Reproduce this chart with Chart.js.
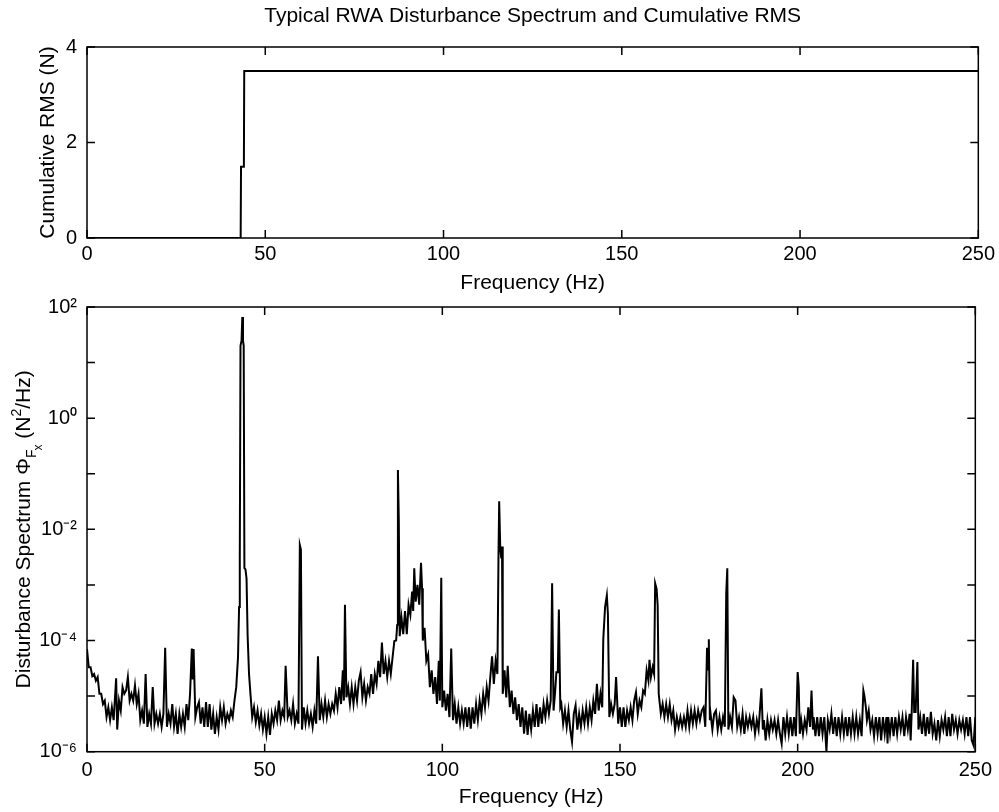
<!DOCTYPE html>
<html>
<head>
<meta charset="utf-8">
<script src="https://cdn.jsdelivr.net/npm/chart.js@4.4.1/dist/chart.umd.min.js"></script>
<style>
  html, body { margin: 0; padding: 0; background: #fff; }
  #wrap { position: relative; width: 999px; height: 812px; }
  #topBox { position: absolute; left: 0; top: 0; width: 999px; height: 300px; }
  #bottomBox { position: absolute; left: 0; top: 285px; width: 999px; height: 527px; }
</style>
</head>
<body>
<div id="wrap">
  <div id="topBox"><canvas id="rmsChart"></canvas></div>
  <div id="bottomBox"><canvas id="psdChart"></canvas></div>
</div>
<script>
// cumulative RMS (N) vs frequency (Hz)
const rmsFreq = [0, 43.1, 43.2, 44.0, 44.1, 250];
const rmsValue = [0, 0, 1.49, 1.49, 3.5, 3.5];

// disturbance PSD (N^2/Hz), [frequency Hz, value]
const psd0to46 = [
  [0,7e-5],[0.5,3.3e-5],[1,3.3e-5],[1.5,2.3e-5],[2,2.5e-5],[2.5,1.9e-5],[3,2.2e-5],[3.5,1.1e-5],
  [4,1.1e-5],[4.5,7.2e-6],[5,8.3e-6],[5.5,4.2e-6],[6,6.3e-6],[6.5,3.7e-6],[7,6.3e-6],[7.5,3.7e-6],
  [8.2,2.1e-5],[8.5,2.5e-6],[9,8.3e-6],[9.5,5.5e-6],[10,1.45e-5],[10.5,1.1e-5],[11,1.26e-5],[11.5,2.2e-5],
  [12,8.3e-6],[12.5,1.1e-5],[13,8.3e-6],[13.5,1.55e-5],[14,7.2e-6],[14.5,1.1e-5],[15,3.7e-6],[15.5,5.5e-6],
  [16,3.2e-6],[16.5,2.5e-5],[17,2.8e-6],[17.5,4.8e-6],[18,3.2e-6],[18.5,1.45e-5],[19,3.2e-6],[19.5,4.8e-6],
  [20,3.2e-6],[20.5,4.8e-6],[21,2.8e-6],[21.5,4.8e-6],[22,7.4e-5],[22.5,2.8e-6],[23,4.8e-6],[23.5,3.2e-6],
  [24,7.2e-6],[24.5,2.8e-6],[25,4.8e-6],[25.5,2.1e-6],[26,4.8e-6],[26.5,2.8e-6],[27,4.8e-6],[27.5,2.8e-6],
  [28,7.2e-6],[28.5,3.7e-6],[29,1.1e-5],[29.5,7.2e-5],[29.75,2e-5],[30,7e-5],[30.5,4.2e-6],[31,6.3e-6],
  [31.5,7.8e-6],[32,3.2e-6],[32.5,6.3e-6],[33,2.8e-6],[33.5,7.8e-6],[34,2.8e-6],[34.5,7.2e-6],[35,2.5e-6],
  [35.5,4.8e-6],[36,2.1e-6],[36.5,4.2e-6],[37,2.5e-6],[37.5,6.3e-6],[38,3.7e-6],[38.5,6.3e-6],[39,3.2e-6],
  [39.5,4.8e-6],[40,3.7e-6],[40.5,5.5e-6],[41,4.2e-6],[41.5,8.3e-6],[42,1.45e-5],[42.5,5e-5],[42.8,4e-4],
  [43,3e-3],[43.2,20],[43.5,25],[43.7,66],[43.9,25],[44.1,20],[44.3,2e-3],[44.6,1.9e-3],
  [44.9,1.3e-3],[45.2,1.26e-4],[45.6,2.5e-5]
];
const psd46to100 = [
  [46,1.1e-5],[46.5,4.2e-6],[47,6.3e-6],[47.5,3.4e-6],[48,5.5e-6],[48.5,3e-6],[49,4.8e-6],[49.5,2.5e-6],
  [50,4.2e-6],[50.5,2.1e-6],[51,4.2e-6],[51.5,2e-6],[52,4.8e-6],[52.5,3.2e-6],[53,5.5e-6],[53.5,3.7e-6],
  [54,8.3e-6],[54.5,3.7e-6],[55,5.5e-6],[55.5,4.2e-6],[55.9,3.5e-5],[56.5,4.2e-6],[57,5.5e-6],[57.5,3.7e-6],
  [58,7.2e-6],[58.5,3.2e-6],[59,4.8e-6],[59.5,3.2e-6],[59.9,5.2e-3],[60.2,4.3e-3],[60.5,2.5e-6],[61,6.3e-6],
  [61.5,3.2e-6],[62,5.5e-6],[62.5,3.2e-6],[63,4.8e-6],[63.5,2.8e-6],[64,5.5e-6],[64.5,3.2e-6],[65,5.2e-5],
  [65.5,3.7e-6],[66,7.2e-6],[66.5,4.2e-6],[67,8.3e-6],[67.5,4.2e-6],[68,7.2e-6],[68.5,4.8e-6],[69,7.2e-6],
  [69.5,5.5e-6],[70,1.1e-5],[70.5,6.3e-6],[71,1.45e-5],[71.5,7.2e-6],[72,2.9e-5],[72.3,8.3e-6],[72.6,4.4e-4],
  [73,9.5e-6],[73.5,1.45e-5],[74,7.2e-6],[74.5,1.45e-5],[75,7.2e-6],[75.5,1.45e-5],[76,8.3e-6],[76.5,1.9e-5],
  [77,2.7e-5],[77.5,9.5e-6],[78,1.66e-5],[78.5,8.3e-6],[79,1.45e-5],[79.5,1.1e-5],[80,2.5e-5],[80.5,1.1e-5],
  [81,2.5e-5],[81.5,1.66e-5],[82,4.3e-5],[82.5,2.2e-5],[83,9.2e-5],[83.5,2.5e-5],[84,4.3e-5],[84.5,2.2e-5],
  [85,4.3e-5],[85.5,2.5e-5],[86,5e-5],[86.5,9.8e-5],[87,1e-4],[87.3,1.9e-4],[87.5,0.117],[87.75,0.015],
  [88,1.2e-4],[88.5,2.6e-4],[89,1.3e-4],[89.5,3.4e-4],[90,1.3e-4],[90.5,4.4e-4],[91,2.9e-4],[91.5,7.6e-4],
  [91.8,3.4e-4],[92.1,2e-3],[92.5,5e-4],[93,1e-3],[93.5,4.4e-4],[94,2.5e-3],[94.3,8.7e-4],[94.5,1e-4],
  [95,1.7e-4],[95.5,4.3e-5],[96,5.6e-5],[96.5,1.45e-5],[97,2.9e-5],[97.5,1.1e-5],[98,2.2e-5],[98.5,7.2e-6],
  [99,4.3e-5],[99.3,8.3e-6],[99.7,1.35e-3]
];
const psd100to150 = [
  [100,6.3e-6],[100.5,1.26e-5],[101,5.5e-6],[101.5,1.1e-5],[102,4.2e-6],[102.5,7.2e-5],[103,3.7e-6],[103.5,7.2e-6],
  [104,3.2e-6],[104.5,6.3e-6],[105,3.2e-6],[105.5,5.5e-6],[106,3.2e-6],[106.5,6.3e-6],[107,2.8e-6],[107.5,6.3e-6],
  [108,2.6e-6],[108.5,6.3e-6],[109,3.2e-6],[109.5,7.2e-6],[110,3.7e-6],[110.5,8.3e-6],[111,4.8e-6],[111.5,1.1e-5],
  [112,6.3e-6],[112.5,1.45e-5],[113,8.3e-6],[113.5,2.2e-5],[114,5.2e-5],[114.5,1.66e-5],[115,4.3e-5],[115.5,2.5e-5],
  [115.8,3e-3],[116,3.2e-2],[116.3,4.6e-3],[116.6,3e-3],[116.8,4.9e-3],[117,1.1e-5],[117.5,2.9e-5],[118,9.5e-6],
  [118.4,3.5e-5],[119,6.3e-6],[119.5,1.26e-5],[120,4.8e-6],[120.5,9.5e-6],[121,3.7e-6],[121.5,7.2e-6],[122,2.8e-6],
  [122.5,6.3e-6],[123,2.1e-6],[123.5,5.5e-6],[124,2e-6],[124.5,4.8e-6],[125,2.5e-6],[125.5,5.5e-6],[126,2.8e-6],
  [126.5,7.2e-6],[127,2.8e-6],[127.5,6.3e-6],[128,3.2e-6],[128.5,7.2e-6],[129,4.2e-6],[129.5,8.3e-6],[130,4.8e-6],
  [130.5,8.3e-6],[130.9,1.07e-3],[131.3,5.5e-6],[131.7,1.1e-5],[132.1,2.7e-5],[132.5,2.7e-5],[132.8,3.6e-4],[133.2,6.3e-6],
  [133.5,7.2e-6],[134,3.2e-6],[134.5,5.5e-6],[135,2.8e-6],[135.5,5.5e-6],[136,2.5e-6],[136.5,1.5e-6],[137,4.8e-6],
  [137.5,6.8e-6],[138,2.5e-6],[138.5,4.8e-6],[139,2.8e-6],[139.5,5.5e-6],[140,3.2e-6],[140.5,6.3e-6],[141,3.2e-6],
  [141.5,6.3e-6],[142,3.7e-6],[142.5,8.3e-6],[143,4.8e-6],[143.5,1.66e-5],[144,5.5e-6],[144.5,1.1e-5],[145,6.3e-6],
  [145.3,1.07e-4],[145.8,4e-4],[146.3,6.5e-4],[146.6,3e-4],[147,4.2e-6],[147.5,7.2e-6],[148,4.8e-6],[148.5,7.2e-6],
  [148.9,2.2e-5],[149.5,3.2e-6]
];
const psd150to200 = [
  [150,6.3e-6],[150.5,2.8e-6],[151,6.3e-6],[151.5,2.8e-6],[152,5.5e-6],[152.5,3.7e-6],[153,6.3e-6],[153.5,3.7e-6],
  [154,8.3e-6],[154.5,1.17e-5],[155,4.8e-6],[155.5,8.3e-6],[156,6.3e-6],[156.5,1.26e-5],[157,1.1e-5],[157.5,2.9e-5],
  [158,1.9e-5],[158.3,4.5e-5],[158.7,2.2e-5],[159.2,3.3e-5],[159.6,2.5e-5],[159.9,1.07e-3],[160.3,8.5e-4],[160.6,4.3e-4],
  [160.9,1.1e-5],[161.5,4.8e-6],[162,7.2e-6],[162.5,4.2e-6],[163,7.2e-6],[163.5,4.2e-6],[164,7.2e-6],[164.5,3.7e-6],
  [165,5.5e-6],[165.5,2.5e-6],[166,4.2e-6],[166.5,2.8e-6],[167,4.2e-6],[167.5,2.8e-6],[168,4.2e-6],[168.5,2.8e-6],
  [169,5.5e-6],[169.5,2.8e-6],[170,5.5e-6],[170.5,3.2e-6],[171,5.5e-6],[171.5,3.2e-6],[172,5.5e-6],[172.5,3.7e-6],
  [173,5.5e-6],[173.5,6.3e-6],[174,2.8e-6],[174.5,7.4e-5],[174.8,3e-5],[175,1.05e-4],[175.3,3.7e-6],[175.5,4.8e-6],
  [176,2.5e-6],[176.5,4.8e-6],[177,5.5e-6],[177.5,2.5e-6],[178,4.2e-6],[178.5,2.5e-6],[179,4.2e-6],[179.5,2.8e-6],
  [179.9,7e-4],[180.2,2e-3],[180.5,2.5e-6],[181,4.2e-6],[181.5,2.8e-6],[182,9.5e-6],[182.5,8.3e-6],[183,2.8e-6],
  [183.5,4.2e-6],[184,2.5e-6],[184.5,4.8e-6],[185,2.1e-6],[185.5,4.2e-6],[186,2.8e-6],[186.5,4.2e-6],[187,2.8e-6],
  [187.5,4.2e-6],[188,2.1e-6],[188.5,3.7e-6],[189,2.5e-6],[189.8,1.38e-5],[190.2,2.5e-6],[190.5,3.7e-6],[191,1.6e-6],
  [191.5,3.7e-6],[192,2.1e-6],[192.5,3.7e-6],[193,2.5e-6],[193.5,3.7e-6],[194,2.1e-6],[194.5,3.7e-6],[195,2.1e-6],
  [195.5,1.4e-6],[196,4.2e-6],[196.5,2.1e-6],[197,4.2e-6],[197.5,2.1e-6],[198,4.2e-6],[198.5,1.9e-6],[199,4.2e-6],
  [199.5,1.9e-6]
];
const psd200to250 = [
  [200,2.7e-5],[200.3,1.5e-5],[200.6,2.1e-6],[201,3.7e-6],[201.5,2.1e-6],[202,3.7e-6],[202.5,2.5e-6],[203,6.3e-6],
  [203.5,2.8e-6],[203.9,1.26e-5],[204.3,2.5e-6],[204.5,4.2e-6],[205,1.9e-6],[205.5,4.2e-6],[206,1.9e-6],[206.5,4.2e-6],
  [207,2.1e-6],[207.5,4.2e-6],[208.1,1e-6],[208.5,3.7e-6],[209,2.5e-6],[209.5,4.8e-6],[210,2.1e-6],[210.5,4.2e-6],
  [211,1.9e-6],[211.5,4.2e-6],[212,2.1e-6],[212.5,4.2e-6],[213,2.1e-6],[213.5,4.2e-6],[214,1.9e-6],[214.5,4.2e-6],
  [215,2.1e-6],[215.5,4.2e-6],[216,2.1e-6],[216.5,4.2e-6],[217,2.1e-6],[217.5,3.7e-6],[218,1.9e-6],[218.5,1.26e-5],
  [218.8,1e-5],[219.2,6.3e-6],[219.5,3.7e-6],[220,5.5e-6],[220.5,2.5e-6],[221,3.7e-6],[221.5,1.9e-6],[222,4.2e-6],
  [222.5,2.1e-6],[223,4.2e-6],[223.5,1.6e-6],[224,4.2e-6],[224.5,2.1e-6],[225,4.2e-6],[225.3,1.4e-6],[225.5,4.2e-6],
  [226,2.1e-6],[226.5,4.2e-6],[227,1.9e-6],[227.5,4.2e-6],[228,2.1e-6],[228.5,4.2e-6],[229,2.5e-6],[229.5,4.2e-6],
  [230,1.9e-6],[230.5,4.2e-6],[231,2.5e-6],[231.5,4.8e-6],[231.8,1.6e-6],[232.1,5.2e-6],[232.5,4.5e-5],[232.8,5.2e-6],
  [233.2,5.2e-6],[233.7,4.1e-5],[234,2.5e-6],[234.5,4.2e-6],[235,2.1e-6],[235.5,4.8e-6],[236,1.9e-6],[236.5,4.2e-6],
  [237,2.1e-6],[237.5,5.2e-6],[238,2.1e-6],[238.5,3.2e-6],[239,1.6e-6],[239.5,3.7e-6],[240,1.9e-6],[240.5,3.7e-6],
  [241,2.5e-6],[241.5,4.2e-6],[242,1.9e-6],[242.5,4.2e-6],[243,1.9e-6],[243.5,4.8e-6],[244,2.5e-6],[244.5,3.7e-6],
  [245,2.1e-6],[245.5,3.7e-6],[246,2.5e-6],[246.5,3.7e-6],[247,2.1e-6],[247.5,4.2e-6],[248,1.9e-6],[248.5,4.2e-6],
  [249,1.6e-6],[249.5,1.3e-6],[250,4.2e-6]
];

// axis ticks
const freqTicks = [0, 50, 100, 150, 200, 250];
const rmsTicks = [0, 2, 4];
const psdTicks = [1e-6, 1e-5, 1e-4, 1e-3, 1e-2, 1e-1, 1, 10, 100];
const psdTickLabels = ['10\u207B\u2076', '', '10\u207B\u2074', '', '10\u207B\u00B2', '', '10\u2070', '', '10\u00B2'];

const FONT = "'Liberation Sans', Arial, Helvetica, sans-serif";
Chart.defaults.font.family = FONT;
Chart.defaults.color = '#000';
Chart.defaults.animation = false;

// matlab style frame: full box plus inward ticks on all four sides
const matlabAxes = {
    id: 'matlabAxes',
    afterLayout(chart) {
        // center the title over the plot box, not the canvas
        if (chart.titleBlock) {
            chart.titleBlock.left = chart.chartArea.left;
            chart.titleBlock.right = chart.chartArea.right;
        }
    },
    afterDatasetsDraw(chart) {
        const { ctx, chartArea: a, scales } = chart;
        const len = 8;
        ctx.save();
        ctx.strokeStyle = '#000';
        ctx.lineWidth = 1.5;
        ctx.strokeRect(a.left, a.top, a.right - a.left, a.bottom - a.top);
        ctx.beginPath();
        scales.x.ticks.forEach(t => {
            const px = scales.x.getPixelForValue(t.value);
            ctx.moveTo(px, a.bottom); ctx.lineTo(px, a.bottom - len);
            ctx.moveTo(px, a.top); ctx.lineTo(px, a.top + len);
        });
        scales.y.ticks.forEach(t => {
            const py = scales.y.getPixelForValue(t.value);
            ctx.moveTo(a.left, py); ctx.lineTo(a.left + len, py);
            ctx.moveTo(a.right, py); ctx.lineTo(a.right - len, py);
        });
        ctx.stroke();
        ctx.restore();
    }
};

// y label of the spectrum with sub/superscripts
const psdYLabel = {
    id: 'psdYLabel',
    afterDraw(chart) {
        const { ctx, chartArea: a } = chart;
        const parts = [
            { t: 'Disturbance Spectrum \u03A6', s: 21, dy: 0, back: 0 },
            { t: 'F', s: 14, dy: 6, back: 0 },
            { t: 'x', s: 12, dy: 12, back: 1 },
            { t: ' (N', s: 21, dy: 0, back: 0 },
            { t: '2', s: 14, dy: -9, back: 0 },
            { t: '/Hz)', s: 21, dy: 0, back: 0 }
        ];
        ctx.save();
        let total = 0;
        parts.forEach(p => {
            ctx.font = p.s + 'px ' + FONT;
            p.w = ctx.measureText(p.t).width;
            total += p.w - p.back;
        });
        ctx.translate(30, (a.top + a.bottom) / 2);
        ctx.rotate(-Math.PI / 2);
        ctx.fillStyle = '#000';
        ctx.textBaseline = 'alphabetic';
        let x = -total / 2;
        parts.forEach(p => {
            ctx.font = p.s + 'px ' + FONT;
            x -= p.back;
            ctx.fillText(p.t, x, p.dy);
            x += p.w;
        });
        ctx.restore();
    }
};

function xScale(height, pad, titlePad) {
    return {
        type: 'linear', min: 0, max: 250,
        afterBuildTicks: s => { s.ticks = freqTicks.map(v => ({ value: v })); },
        afterFit: s => { s.height = height; },
        grid: { display: false, drawTicks: false },
        border: { display: false },
        ticks: { padding: pad, font: { size: 20 }, color: '#000', maxRotation: 0, autoSkip: false },
        title: { display: true, text: 'Frequency (Hz)', font: { size: 21 }, color: '#000', padding: { top: 0, bottom: titlePad } }
    };
}

new Chart(document.getElementById('rmsChart'), {
    type: 'line',
    data: {
        datasets: [{
            data: rmsFreq.map((f, i) => ({ x: f, y: rmsValue[i] })),
            borderColor: '#000',
            borderWidth: 2,
            pointRadius: 0,
            tension: 0
        }]
    },
    options: {
        responsive: true,
        maintainAspectRatio: false,
        layout: { padding: { left: 0, right: 19.5, top: 0, bottom: 0 } },
        plugins: {
            legend: { display: false },
            tooltip: { enabled: false },
            title: {
                display: true,
                text: 'Typical RWA Disturbance Spectrum and Cumulative RMS',
                font: { size: 21, weight: 'normal' },
                color: '#000',
                padding: { top: 3.4, bottom: 18.4 }
            }
        },
        scales: {
            x: xScale(62, 4, 4.4),
            y: {
                min: 0, max: 4,
                afterBuildTicks: s => { s.ticks = rmsTicks.map(v => ({ value: v })); },
                afterFit: s => { s.width = 87; },
                grid: { display: false, drawTicks: false },
                border: { display: false },
                ticks: { padding: 10, font: { size: 20 }, color: '#000', autoSkip: false },
                title: { display: true, text: 'Cumulative RMS (N)', font: { size: 21 }, color: '#000', padding: { top: 35.4, bottom: 0 } }
            }
        }
    },
    plugins: [matlabAxes]
});

const psdPoints = [].concat(psd0to46, psd46to100, psd100to150, psd150to200, psd200to250);

new Chart(document.getElementById('psdChart'), {
    type: 'line',
    data: {
        datasets: [{
            data: psdPoints.map(p => ({ x: p[0], y: p[1] })),
            borderColor: '#000',
            borderWidth: 2,
            pointRadius: 0,
            tension: 0
        }]
    },
    options: {
        responsive: true,
        maintainAspectRatio: false,
        layout: { padding: { left: 0, right: 19.5, top: 18.3, bottom: 0 } },
        plugins: {
            legend: { display: false },
            tooltip: { enabled: false }
        },
        scales: {
            x: xScale(60.3, 7, 2.4),
            y: {
                type: 'logarithmic', min: 1e-6, max: 1e2,
                afterBuildTicks: s => { s.ticks = psdTicks.map(v => ({ value: v })); },
                afterFit: s => { s.width = 87; },
                grid: { display: false, drawTicks: false },
                border: { display: false },
                ticks: {
                    padding: 10, font: { size: 20 }, color: '#000', autoSkip: false,
                    callback: v => psdTickLabels[psdTicks.indexOf(v)] ?? ''
                }
            }
        }
    },
    plugins: [matlabAxes, psdYLabel]
});
</script>
</body>
</html>
